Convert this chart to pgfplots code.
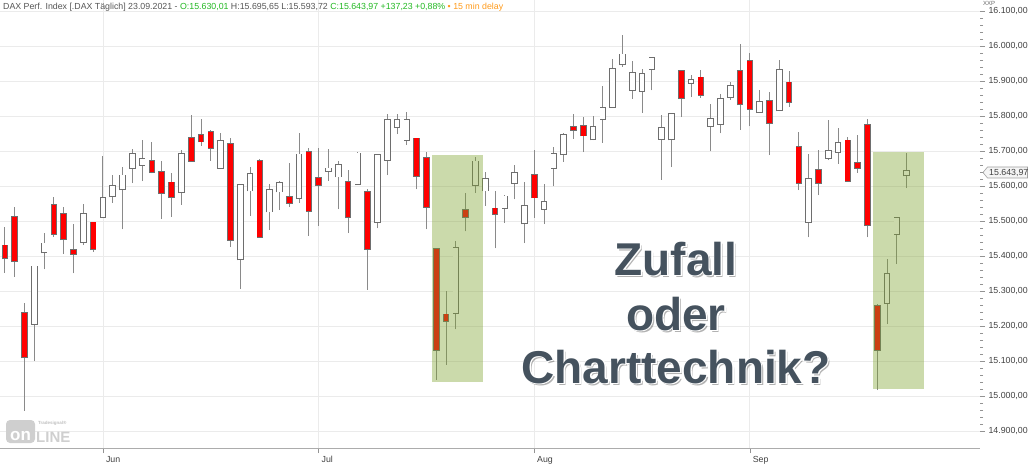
\documentclass[border=0pt]{standalone}
\usepackage{pgfplots}
\pgfplotsset{compat=1.18}
\usepackage{pgfplotstable}
\usepackage{fontspec}
\setmainfont{Liberation Sans}
\newfontfamily\outlinefont{Liberation Sans}[UprightFeatures={FakeBold=4}, BoldFeatures={FakeBold=4}]

\definecolor{wick}{HTML}{8A8A8A}
\definecolor{bodyline}{HTML}{6E6E6E}
\definecolor{candlered}{HTML}{FF0000}
\definecolor{gridc}{HTML}{EBEBEB}
\definecolor{boxgreen}{RGB}{125,162,45}
\definecolor{hdrgray}{HTML}{555555}
\definecolor{hdrgreen}{HTML}{22B822}
\definecolor{hdrorange}{HTML}{FF9A1A}
\definecolor{slate}{HTML}{45525E}

% daily candles, i = trading day index (Jun 1 = 10, Jul 1 = 32, Aug 2 = 54, Sep 1 = 76)
\pgfplotstableread{
i  o        h        l        c
0  15430    15482    15352    15393
1  15512    15539    15341    15385
2  15238    15267    14958    15110
3  15206    15372    15101    15370
4  15410    15467    15362    15436
5  15546    15568    15455    15463
6  15519    15541    15406    15448
7  15417    15490    15350    15405
8  15441    15549    15431    15519
9  15496    15498    15412    15419
10 15512    15686    15508    15566
11 15570    15630    15552    15601
12 15590    15655    15476    15630
13 15651    15705    15608    15691
14 15660    15731    15614    15677
15 15672    15726    15636    15639
16 15641    15670    15505    15579
17 15610    15636    15512    15569
18 15582    15703    15546    15691
19 15738    15803    15670    15672
20 15745    15791    15714    15727
21 15755    15760    15672    15709
22 15652    15752    15648    15728
23 15719    15736    15425    15446
24 15390    15605    15306    15603
25 15587    15653    15515    15634
26 15672    15676    15453    15455
27 15527    15606    15474    15589
28 15584    15615    15531    15608
29 15569    15667    15541    15552
30 15565    15752    15552    15690
31 15698    15708    15458    15529
32 15622    15708    15486    15603
33 15643    15705    15615    15650
34 15627    15672    15533    15660
35 15612    15646    15465    15510
36 15605    15698    15603    15693
37 15584    15590    15303    15420
38 15497    15690    15479    15688
39 15674    15806    15631    15789
40 15768    15806    15748    15789
41 15731    15810    15717    15789
42 15736    15738    15590    15629
43 15681    15698    15476    15541
44 15419    15421    15046    15131
45 15233    15300    15089    15215
46 15238    15443    15190    15422
47 15531    15579    15470    15512
48 15603    15682    15581    15670
49 15587    15641    15543    15619
50 15536    15587    15422    15519
51 15538    15574    15495    15570
52 15608    15660    15562    15638
53 15493    15610    15437    15543
54 15631    15702    15509    15567
55 15535    15607    15491    15554
56 15652    15712    15599    15691
57 15691    15750    15669    15745
58 15769    15807    15735    15761
59 15771    15797    15697    15744
60 15733    15799    15731    15769
61 15791    15886    15723    15823
62 15826    15964    15823    15935
63 15948    16030    15940    15976
64 15875    15957    15849    15924
65 15871    15935    15809    15921
66 15934    15969    15873    15966
67 15735    15802    15618    15766
68 15733    15809    15654    15807
69 15929    15931    15797    15851
70 15895    15916    15854    15904
71 15910    15932    15852    15859
72 15771    15833    15699    15792
73 15777    15862    15750    15849
74 15854    15897    15847    15885
75 15928    16005    15761    15833
76 15957    15980    15771    15821
77 15811    15873    15809    15840
78 15842    15869    15688    15780
79 15816    15959    15814    15932
80 15896    15928    15826    15841
81 15712    15754    15588    15609
82 15497    15691    15453    15621
83 15647    15702    15574    15609
84 15680    15788    15674    15699
85 15698    15765    15663    15722
86 15730    15739    15612    15615
87 15667    15746    15638    15652
88 15774    15790    15453    15489
89 15257    15263    15017    15132
90 15265    15392    15205    15349
91 15462    15510    15377    15508
92 15630.01 15695.65 15593.72 15643.97
}\candles

\newcommand\bigfont{\fontsize{46}{54}\selectfont\bfseries}
\newcommand\bigword[2]{%
  \node[anchor=base, text=black, opacity=0.3, xshift=2pt, yshift=-2.5pt] at (676pt,#1) {\bigfont #2};
  \node[anchor=base, text=white] at (676pt,#1) {\bigfont\outlinefont #2};
  \node[anchor=base, text=slate] at (676pt,#1) {\bigfont #2};
}

\begin{document}
\begin{tikzpicture}
\path[use as bounding box] (0pt,-16pt) rectangle (1030pt,448pt);
\begin{axis}[
  at={(0pt,0pt)}, anchor=south west,
  scale only axis, width=980pt, height=448pt,
  xmin=-0.51, xmax=99.49, ymin=14851.4, ymax=16131.4,
  axis x line*=bottom, axis y line*=right,
  x axis line style={draw=gray!65, line width=1pt},
  y axis line style={draw=none},
  tick align=outside,
  major tick length=5pt, minor tick length=3pt,
  tick style={draw=gray!85, line width=0.6pt},
  xtick={10,32,54,76}, xticklabels={Jun,Jul,Aug,Sep},
  xticklabel style={anchor=north west, xshift=-0.5pt, text=black!75,
    font=\fontsize{8.8}{10}\selectfont},
  ytick={14900,15000,...,16100}, minor y tick num=4,
  scaled y ticks=false,
  yticklabel style={text=black!75, font=\fontsize{8.8}{10}\selectfont,
    /pgf/number format/.cd, fixed, fixed zerofill, precision=2,
    use comma, 1000 sep={.}, assume math mode=true},
  grid=major, major grid style={draw=gridc, line width=0.8pt},
  candle/.style={draw=none, mark=none,
    error bars/y dir=plus, error bars/y explicit, error bars/error mark=none},
]
% wicks
\addplot[candle, error bars/error bar style={draw=wick, line width=1pt}]
  table[x=i, y=l, y error plus expr=\thisrow{h}-\thisrow{l}] {\candles};
% body outlines
\addplot[candle, error bars/error bar style={draw=bodyline, line width=6.6pt}]
  table[x=i, y expr={min(\thisrow{o},\thisrow{c})-2.5},
        y error plus expr={abs(\thisrow{c}-\thisrow{o})+5}] {\candles};
% falling days
\addplot[candle, restrict expr to domain={\thisrow{c}-\thisrow{o}}{-2000:0},
  error bars/error bar style={draw=candlered, line width=4.8pt}]
  table[x=i, y=c, y error plus expr=\thisrow{o}-\thisrow{c}] {\candles};
% rising days
\addplot[candle, restrict expr to domain={\thisrow{c}-\thisrow{o}}{0:2000},
  error bars/error bar style={draw=white, line width=4.8pt}]
  table[x=i, y=o, y error plus expr=\thisrow{c}-\thisrow{o}] {\candles};
% highlighted zones
\addplot[draw=none, fill=boxgreen, fill opacity=0.4]
  coordinates {(43.6,15041) (48.8,15041) (48.8,15689) (43.6,15689)} -- cycle;
\addplot[draw=none, fill=boxgreen, fill opacity=0.4]
  coordinates {(88.6,15019) (93.8,15019) (93.8,15698) (88.6,15698)} -- cycle;
\end{axis}

% header line
\node[anchor=west, inner sep=0, font=\fontsize{8.8}{10}\selectfont] at (3pt,441pt)
  {\color{hdrgray}DAX Perf. Index [.DAX Täglich] 23.09.2021 - \color{hdrgreen}O:15.630,01 \color{hdrgray}H:15.695,65 L:15.593,72 \color{hdrgreen}C:15.643,97 +137,23 +0,88\% \color{hdrorange}• 15 min delay};
\node[anchor=west, inner sep=0, text=black!60, font=\fontsize{6}{7}\selectfont] at (983pt,445pt) {XXP};

% last price tag
\draw[draw=gray!75, fill=gray!8, line width=0.6pt]
  (983pt,275.5pt) -- (987.5pt,281pt) -- (1027.5pt,281pt) -- (1027.5pt,270pt) -- (987.5pt,270pt) -- cycle;
\node[anchor=west, inner sep=0, text=black!75, font=\fontsize{8.8}{10}\selectfont] at (989pt,275.5pt) {15.643,97};

% logo
\fill[gray!38, rounded corners=4pt] (6pt,5pt) rectangle (35pt,28pt);
\node[anchor=base, inner sep=0, text=white, font=\bfseries\fontsize{17}{17}\selectfont] at (20.5pt,8pt) {on};
\node[anchor=base west, inner sep=0, text=gray!38, font=\bfseries\fontsize{15}{15}\selectfont] at (36pt,6pt) {LINE};
\node[anchor=west, inner sep=0, text=gray!50, font=\bfseries\fontsize{4.5}{5}\selectfont] at (38pt,24.5pt) {Tradesignal®};

% overlay text
\bigword{173pt}{Zufall}
\bigword{118pt}{oder}
\bigword{65pt}{Charttechnik?}
\end{tikzpicture}
\end{document}
